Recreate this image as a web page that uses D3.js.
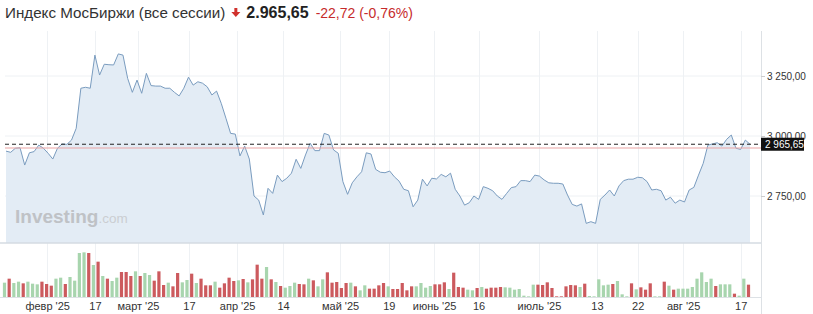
<!DOCTYPE html>
<html><head><meta charset="utf-8">
<script src="https://cdn.jsdelivr.net/npm/d3@7/dist/d3.min.js"></script>
<style>
html,body{margin:0;padding:0;background:#fff;}
svg{display:block;font-family:"Liberation Sans",Arial,sans-serif;}
</style></head>
<body>
<svg id="chart" width="813" height="314"></svg>
<script>
// ---- data ----
const title = "Индекс МосБиржи (все сессии)";
const lastPriceText = "2.965,65";
const changeText = "-22,72";
const changePctText = "(-0,76%)";
const lastPrice = 2965.65;
const refPrice = 2950;

const prices = [
2937,2932,2949,2951,2879,2930,2935,2962,2949,2928,
2904,2949,2967,2965,2983,3032,3199,3203,3199,3337,
3254,3299,3297,3296,3342,3337,3240,3182,3233,3178,
3261,3210,3208,3208,3199,3199,3182,3167,3199,3245,
3212,3226,3220,3205,3171,3187,3136,3074,3011,3008,
2917,2958,2904,2750,2733,2671,2782,2761,2837,2810,
2824,2845,2903,2865,2921,2970,2939,2939,3011,3004,
2942,2928,2810,2757,2805,2830,2851,2930,2925,2861,
2849,2847,2854,2830,2812,2778,2772,2705,2733,2820,
2792,2824,2821,2840,2830,2845,2778,2750,2712,2722,
2750,2736,2789,2782,2772,2750,2736,2761,2785,2789,
2814,2814,2810,2837,2833,2817,2805,2803,2803,2800,
2754,2715,2708,2717,2636,2643,2636,2736,2754,2775,
2750,2792,2814,2820,2820,2828,2826,2810,2775,2778,
2772,2733,2745,2720,2733,2725,2775,2786,2837,2886,
2962,2967,2972,2958,2986,3004,2949,2944,2983,2965.65
];

const volumes = [
43,55,42,46,41,46,40,38,46,39,
34,55,58,39,60,49,132,134,132,96,
106,63,55,48,58,75,75,63,77,63,
72,66,49,77,36,43,32,72,44,51,
70,42,55,35,35,46,28,41,58,48,
50,54,44,53,97,55,90,53,45,33,
28,33,43,39,38,55,50,32,53,74,
43,45,27,42,43,32,20,35,25,25,
35,42,32,24,24,42,20,32,32,42,
28,33,38,38,44,24,73,30,28,22,
20,27,30,25,28,28,30,29,28,22,
24,4,2,37,37,36,44,27,2,2,
32,36,35,30,40,3,2,53,35,37,
39,48,8,2,41,23,29,22,41,2,
2,46,34,22,25,25,25,30,55,74,
45,55,33,38,38,38,10,4,55,37
];

// candle direction: 1 = up (green), 0 = down (red)
const volumeUp = [
1,0,1,1,0,1,1,1,0,0,
0,1,1,0,1,1,1,1,0,1,
0,1,0,1,1,0,0,0,1,0,
1,1,0,0,0,1,0,0,1,1,
0,1,0,0,0,1,0,0,0,0,
1,0,1,0,0,0,1,0,1,0,
1,1,1,0,0,1,0,1,1,0,
0,0,0,0,1,0,1,1,0,0,
0,0,1,0,0,0,0,0,1,1,
1,1,0,0,0,1,0,0,0,1,
1,0,1,0,0,0,0,1,1,1,
1,1,1,1,0,0,0,0,0,0,
0,0,0,1,0,1,1,1,1,1,
0,1,1,1,0,1,0,0,0,1,
1,0,1,0,1,1,1,1,1,1,
1,1,0,1,1,1,0,1,1,0
];

const yTicks = [2750, 3000, 3250];
const xTickLabels = ["февр '25","17","март '25","17","апр '25","14","май '25","19","июнь '25","16","июль '25","13","22","авг '25","17"];
const xTickIndex  = [8.8, 19, 28.2, 39.1, 49.4, 59.2, 71.4, 81.8, 91.5, 101, 113.9, 126.3, 135, 144.7, 157];

// ---- layout ----
const svg = d3.select("#chart");
const plotLeft = 5, plotRight = 761, priceTop = 31, priceBottom = 243, volBottom = 297;

const x = d3.scaleLinear().domain([0, prices.length - 1]).range([6, 750]);
const y = d3.scaleLinear().domain([2750, 3250]).range([196, 76]);
const yv = d3.scaleLinear().domain([0, 135]).range([volBottom, volBottom - 45]);

const loc = d3.formatLocale({decimal: ",", thousands: " ", grouping: [3], currency: ["", ""]});
const fmt = loc.format(",.2f");

// gridlines
const grid = svg.append("g");
grid.selectAll("line.h").data(yTicks).join("line")
  .attr("x1", plotLeft).attr("x2", plotRight)
  .attr("y1", d => y(d)).attr("y2", d => y(d))
  .attr("stroke", "#eef1f4").attr("stroke-width", 1);
grid.selectAll("line.v").data(xTickIndex).join("line")
  .attr("x1", d => Math.round(x(d)) + 0.5).attr("x2", d => Math.round(x(d)) + 0.5)
  .attr("y1", priceTop).attr("y2", volBottom)
  .attr("stroke", "#eef1f4").attr("stroke-width", 1);

// area + line
const area = d3.area().x((d, i) => x(i)).y0(priceBottom).y1(d => y(d));
svg.append("path").datum(prices).attr("d", area).attr("fill", "#e3ecf5");
const line = d3.line().x((d, i) => x(i)).y(d => y(d));
svg.append("path").datum(prices).attr("d", line)
  .attr("fill", "none").attr("stroke", "#7a9cbf").attr("stroke-width", 1);

// reference lines
svg.append("line").attr("x1", plotLeft).attr("x2", plotRight)
  .attr("y1", y(refPrice)).attr("y2", y(refPrice))
  .attr("stroke", "#eaa3a3").attr("stroke-width", 1);
svg.append("line").attr("x1", plotLeft).attr("x2", plotRight)
  .attr("y1", y(lastPrice)).attr("y2", y(lastPrice))
  .attr("stroke", "#222").attr("stroke-width", 1).attr("stroke-dasharray", "4,3");

// price area bottom border
svg.append("line").attr("x1", 0).attr("x2", plotRight)
  .attr("y1", priceBottom).attr("y2", priceBottom)
  .attr("stroke", "#d5dbe2").attr("stroke-width", 1.5);

// watermark
const wm = svg.append("text").attr("x", 15).attr("y", 223)
  .attr("font-family", "'Liberation Sans', Arial, sans-serif");
wm.append("tspan").text("Investing").attr("font-weight", "bold").attr("font-size", 19).attr("fill", "#bfc2c6");
wm.append("tspan").text(".com").attr("font-size", 13.5).attr("fill", "#cbced2");

// volume bars
svg.append("g").selectAll("rect").data(volumes).join("rect")
  .attr("x", (d, i) => x(i) - 1.6 - 1.5)
  .attr("width", 3.2)
  .attr("y", d => yv(d))
  .attr("height", d => volBottom - yv(d))
  .attr("fill", (d, i) => volumeUp[i] ? "#a8d5ae" : "#cc5a5e");

svg.append("line").attr("x1", 0).attr("x2", plotRight)
  .attr("y1", volBottom + 0.5).attr("y2", volBottom + 0.5)
  .attr("stroke", "#dde1e5");

// right axis line
svg.append("line").attr("x1", plotRight + 0.5).attr("x2", plotRight + 0.5)
  .attr("y1", priceTop).attr("y2", 314)
  .attr("stroke", "#dde1e5");

// y axis
const yAxis = d3.axisRight(y).tickValues(yTicks).tickSize(4).tickPadding(2).tickFormat(fmt);
const ga = svg.append("g").attr("transform", `translate(${plotRight},0)`).call(yAxis);
ga.select(".domain").remove();
ga.selectAll("line").attr("stroke", "#ccc");
ga.selectAll("text").attr("font-size", 10).attr("fill", "#333").attr("font-family", "'Liberation Sans', Arial, sans-serif");

// last price label
svg.append("rect").attr("x", plotRight).attr("y", y(lastPrice) - 6.5).attr("width", 43).attr("height", 13).attr("fill", "#111");
svg.append("text").attr("x", plotRight + 4).attr("y", y(lastPrice) + 3.5)
  .attr("font-size", 10).attr("fill", "#fff").text(fmt(lastPrice));

// x axis
const xAxis = d3.axisBottom(x).tickValues(xTickIndex).tickSize(0).tickPadding(5)
  .tickFormat((d, i) => xTickLabels[i]);
const gx = svg.append("g").attr("transform", `translate(0,${volBottom})`).call(xAxis);
gx.select(".domain").remove();
gx.selectAll("text").attr("font-size", 11).attr("fill", "#333").attr("font-family", "'Liberation Sans', Arial, sans-serif");

// title
const t = svg.append("text").attr("x", 5).attr("y", 18).attr("font-size", 15.2).attr("fill", "#333");
t.append("tspan").text(title);
const tw = t.node().getComputedTextLength();
const ax = 5 + tw + 9;
svg.append("path")
  .attr("d", `M${ax},8 h3 v4 h3 l-4.5,5 l-4.5,-5 h3 z`)
  .attr("fill", "#d0312d");
const p = svg.append("text").attr("x", ax + 12).attr("y", 18).attr("font-size", 16)
  .attr("font-weight", "bold").attr("fill", "#222").text(lastPriceText);
const pw = p.node().getComputedTextLength();
svg.append("text").attr("x", ax + 12 + pw + 7).attr("y", 18).attr("font-size", 14)
  .attr("fill", "#c62b2b").text(changeText + " " + changePctText);
</script>
</body></html>
